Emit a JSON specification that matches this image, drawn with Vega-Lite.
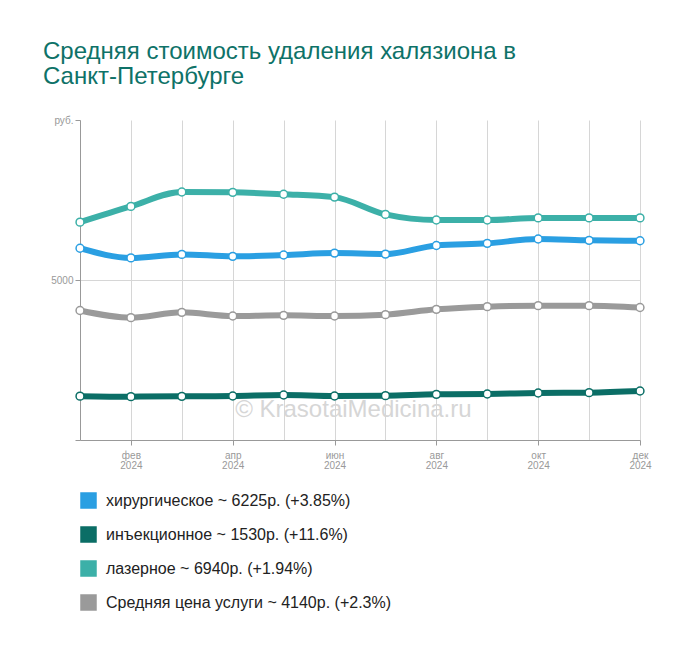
{
  "$schema": "https://vega.github.io/schema/vega-lite/v6.json",
  "width": 560,
  "height": 320,
  "autosize": {"type": "none"},
  "padding": {"left": 80, "top": 120, "right": 60, "bottom": 211},
  "background": "white",
  "config": {"font": "Liberation Sans", "view": {"stroke": null}},
  "title": {
    "text": ["Средняя стоимость удаления халязиона в", "Санкт-Петербурге"],
    "anchor": "start",
    "frame": "group",
    "dx": -37,
    "fontSize": 24,
    "fontWeight": "normal",
    "color": "#0e7268",
    "lineHeight": 25,
    "offset": 26
  },
  "datasets": {
    "prices": [
      {"m": 1, "s": "хирургическое ~ 6225р. (+3.85%)", "v": 5994},
      {"m": 2, "s": "хирургическое ~ 6225р. (+3.85%)", "v": 5690},
      {"m": 3, "s": "хирургическое ~ 6225р. (+3.85%)", "v": 5800},
      {"m": 4, "s": "хирургическое ~ 6225р. (+3.85%)", "v": 5740},
      {"m": 5, "s": "хирургическое ~ 6225р. (+3.85%)", "v": 5780},
      {"m": 6, "s": "хирургическое ~ 6225р. (+3.85%)", "v": 5840},
      {"m": 7, "s": "хирургическое ~ 6225р. (+3.85%)", "v": 5810},
      {"m": 8, "s": "хирургическое ~ 6225р. (+3.85%)", "v": 6080},
      {"m": 9, "s": "хирургическое ~ 6225р. (+3.85%)", "v": 6145},
      {"m": 10, "s": "хирургическое ~ 6225р. (+3.85%)", "v": 6280},
      {"m": 11, "s": "хирургическое ~ 6225р. (+3.85%)", "v": 6240},
      {"m": 12, "s": "хирургическое ~ 6225р. (+3.85%)", "v": 6225},
      {"m": 1, "s": "инъекционное ~ 1530р. (+11.6%)", "v": 1371},
      {"m": 2, "s": "инъекционное ~ 1530р. (+11.6%)", "v": 1355},
      {"m": 3, "s": "инъекционное ~ 1530р. (+11.6%)", "v": 1365},
      {"m": 4, "s": "инъекционное ~ 1530р. (+11.6%)", "v": 1375},
      {"m": 5, "s": "инъекционное ~ 1530р. (+11.6%)", "v": 1406},
      {"m": 6, "s": "инъекционное ~ 1530р. (+11.6%)", "v": 1375},
      {"m": 7, "s": "инъекционное ~ 1530р. (+11.6%)", "v": 1385},
      {"m": 8, "s": "инъекционное ~ 1530р. (+11.6%)", "v": 1427},
      {"m": 9, "s": "инъекционное ~ 1530р. (+11.6%)", "v": 1437},
      {"m": 10, "s": "инъекционное ~ 1530р. (+11.6%)", "v": 1469},
      {"m": 11, "s": "инъекционное ~ 1530р. (+11.6%)", "v": 1480},
      {"m": 12, "s": "инъекционное ~ 1530р. (+11.6%)", "v": 1530},
      {"m": 1, "s": "лазерное ~ 6940р. (+1.94%)", "v": 6808},
      {"m": 2, "s": "лазерное ~ 6940р. (+1.94%)", "v": 7300},
      {"m": 3, "s": "лазерное ~ 6940р. (+1.94%)", "v": 7750},
      {"m": 4, "s": "лазерное ~ 6940р. (+1.94%)", "v": 7740},
      {"m": 5, "s": "лазерное ~ 6940р. (+1.94%)", "v": 7680},
      {"m": 6, "s": "лазерное ~ 6940р. (+1.94%)", "v": 7590},
      {"m": 7, "s": "лазерное ~ 6940р. (+1.94%)", "v": 7050},
      {"m": 8, "s": "лазерное ~ 6940р. (+1.94%)", "v": 6875},
      {"m": 9, "s": "лазерное ~ 6940р. (+1.94%)", "v": 6875},
      {"m": 10, "s": "лазерное ~ 6940р. (+1.94%)", "v": 6940},
      {"m": 11, "s": "лазерное ~ 6940р. (+1.94%)", "v": 6940},
      {"m": 12, "s": "лазерное ~ 6940р. (+1.94%)", "v": 6940},
      {"m": 1, "s": "Средняя цена услуги ~ 4140р. (+2.3%)", "v": 4047},
      {"m": 2, "s": "Средняя цена услуги ~ 4140р. (+2.3%)", "v": 3823},
      {"m": 3, "s": "Средняя цена услуги ~ 4140р. (+2.3%)", "v": 3990},
      {"m": 4, "s": "Средняя цена услуги ~ 4140р. (+2.3%)", "v": 3875},
      {"m": 5, "s": "Средняя цена услуги ~ 4140р. (+2.3%)", "v": 3896},
      {"m": 6, "s": "Средняя цена услуги ~ 4140р. (+2.3%)", "v": 3875},
      {"m": 7, "s": "Средняя цена услуги ~ 4140р. (+2.3%)", "v": 3917},
      {"m": 8, "s": "Средняя цена услуги ~ 4140р. (+2.3%)", "v": 4083},
      {"m": 9, "s": "Средняя цена услуги ~ 4140р. (+2.3%)", "v": 4167},
      {"m": 10, "s": "Средняя цена услуги ~ 4140р. (+2.3%)", "v": 4198},
      {"m": 11, "s": "Средняя цена услуги ~ 4140р. (+2.3%)", "v": 4198},
      {"m": 12, "s": "Средняя цена услуги ~ 4140р. (+2.3%)", "v": 4140}
    ]
  },
  "data": {"name": "prices"},
  "layer": [
    {
      "mark": {"type": "line", "interpolate": "monotone", "strokeWidth": 6},
      "encoding": {
        "x": {
          "field": "m",
          "type": "quantitative",
          "scale": {"domain": [1, 12], "nice": false, "zero": false},
          "axis": {
            "title": null,
            "values": [1, 2, 3, 4, 5, 6, 7, 8, 9, 10, 11, 12],
            "labelExpr": "datum.value % 2 == 0 ? [['янв','фев','мар','апр','май','июн','июл','авг','сен','окт','ноя','дек'][datum.value - 1], '2024'] : ''",
            "labelFontSize": 10,
            "labelColor": "#999999",
            "labelLineHeight": 10,
            "labelPadding": 5,
            "labelFlush": false,
            "labelOverlap": false,
            "domainColor": "#999999",
            "tickColor": "#999999",
            "tickSize": 5,
            "tickOpacity": {"condition": {"test": "datum.value % 2 == 0", "value": 1}, "value": 0},
            "gridColor": "#d6d6d6",
            "grid": true
          }
        },
        "y": {
          "field": "v",
          "type": "quantitative",
          "scale": {"domain": [0, 10000], "nice": false},
          "axis": {
            "title": null,
            "values": [0, 5000, 10000],
            "labelExpr": "datum.value == 10000 ? 'руб.' : (datum.value == 5000 ? '5000' : '')",
            "labelFontSize": 10,
            "labelColor": "#999999",
            "labelPadding": 2,
            "domainColor": "#999999",
            "tickColor": "#999999",
            "tickSize": 5,
            "gridColor": "#d6d6d6",
            "gridOpacity": {"condition": {"test": "datum.value == 5000", "value": 1}, "value": 0}
          }
        },
        "color": {
          "field": "s",
          "type": "nominal",
          "scale": {
            "domain": ["хирургическое ~ 6225р. (+3.85%)", "инъекционное ~ 1530р. (+11.6%)", "лазерное ~ 6940р. (+1.94%)", "Средняя цена услуги ~ 4140р. (+2.3%)"],
            "range": ["#2a9fe2", "#0b6e66", "#3cb0a8", "#9a9a9a"]
          },
          "legend": {
            "title": null,
            "orient": "none",
            "legendX": 0,
            "legendY": 372,
            "direction": "vertical",
            "symbolType": "square",
            "symbolSize": 225,
            "labelFontSize": 16,
            "labelColor": "#222222",
            "labelOffset": 9,
            "labelLimit": 0,
            "rowPadding": 13,
            "padding": 0,
            "encode": {
              "symbols": {
                "update": {
                  "fill": {"scale": "color", "field": "value"},
                  "stroke": {"value": "transparent"},
                  "opacity": {"value": 1}
                }
              }
            }
          }
        }
      }
    },
    {
      "mark": {"type": "point", "filled": false, "fill": "white", "fillOpacity": 1, "opacity": 1, "size": 62, "strokeWidth": 1.5},
      "encoding": {
        "x": {"field": "m", "type": "quantitative"},
        "y": {"field": "v", "type": "quantitative"},
        "color": {"field": "s", "type": "nominal"}
      }
    },
    {
      "data": {"values": [{}]},
      "mark": {"type": "text", "text": "© KrasotaiMedicina.ru", "fontSize": 24, "color": "#d6d6d6", "align": "center", "baseline": "alphabetic"},
      "encoding": {
        "x": {"datum": 6.37, "type": "quantitative"},
        "y": {"datum": 720, "type": "quantitative"}
      }
    }
  ]
}
